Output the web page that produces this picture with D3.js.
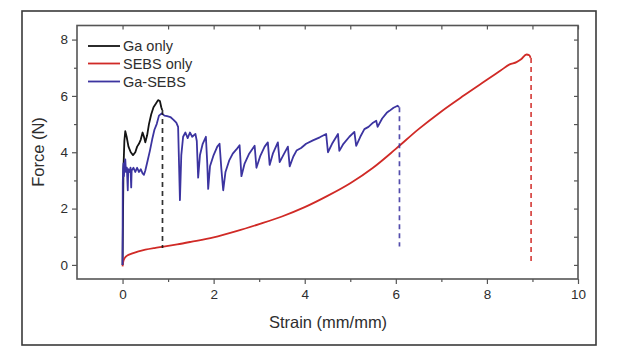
<!DOCTYPE html>
<html><head><meta charset="utf-8">
<script src="https://cdn.jsdelivr.net/npm/d3@7"></script>
<style>
html,body{margin:0;padding:0;background:#fff;}
svg{display:block;font-family:Arial,"Liberation Sans",Helvetica,sans-serif;}
</style></head>
<body><svg id="c" width="617" height="363"></svg>
<script>
// ---- data (strain mm/mm, force N) ----
const seriesNames = ["Ga only", "SEBS only", "Ga-SEBS"];
const seriesColors = ["#141414", "#d02a26", "#3c34a0"];
const gaOnly = [[0,0],[0.02,3.4],[0.04,4.4],[0.06,4.75],[0.09,4.55],[0.13,4.2],[0.18,4.0],[0.23,3.9],[0.28,4.0],[0.32,4.2],[0.36,4.3],[0.4,4.45],[0.44,4.7],[0.47,4.55],[0.5,4.35],[0.54,4.6],[0.58,5.0],[0.63,5.35],[0.68,5.6],[0.73,5.72],[0.78,5.85],[0.82,5.82],[0.85,5.6],[0.87,5.5]];
const sebsOnly = [[0,-0.05],[0.02,0.15],[0.05,0.25],[0.1,0.33],[0.2,0.4],[0.35,0.48],[0.5,0.54],[0.7,0.6],[0.9,0.65],[1.2,0.73],[1.5,0.82],[2.0,0.98],[2.5,1.2],[3.0,1.45],[3.5,1.72],[4.0,2.05],[4.5,2.45],[5.0,2.9],[5.5,3.45],[6.0,4.12],[6.5,4.82],[7.0,5.45],[7.5,6.02],[8.0,6.57],[8.3,6.9],[8.5,7.12],[8.65,7.2],[8.75,7.3],[8.87,7.47],[8.93,7.44],[8.96,7.35]];
const gaSebs = [[0,0],[0.005,2.9],[0.012,3.4],[0.02,3.6],[0.03,3.15],[0.045,3.55],[0.06,3.75],[0.075,3.3],[0.095,3.45],[0.115,2.65],[0.125,3.4],[0.15,3.3],[0.175,3.45],[0.19,2.75],[0.2,3.35],[0.24,3.45],[0.28,3.3],[0.32,3.45],[0.36,3.3],[0.4,3.4],[0.44,3.25],[0.47,3.2],[0.5,3.35],[0.55,3.7],[0.6,4.05],[0.65,4.45],[0.7,4.8],[0.75,5.0],[0.8,5.3],[0.86,5.38],[0.92,5.3],[0.98,5.28],[1.05,5.25],[1.12,5.15],[1.18,5.05],[1.22,4.9],[1.24,3.6],[1.26,2.3],[1.29,3.9],[1.33,4.55],[1.38,4.7],[1.43,4.5],[1.48,4.7],[1.53,4.55],[1.6,4.65],[1.63,4.4],[1.66,3.1],[1.7,3.9],[1.76,4.3],[1.83,4.55],[1.86,3.6],[1.88,2.7],[1.92,3.5],[2.0,3.9],[2.08,4.2],[2.13,4.3],[2.17,3.4],[2.21,2.65],[2.26,3.3],[2.34,3.7],[2.42,3.95],[2.5,4.1],[2.57,4.25],[2.61,3.15],[2.68,3.6],[2.78,3.95],[2.9,4.23],[2.94,3.45],[3.02,3.85],[3.12,4.2],[3.19,4.35],[3.23,3.55],[3.3,3.95],[3.41,4.35],[3.45,3.65],[3.53,3.9],[3.63,4.2],[3.67,3.5],[3.75,3.85],[3.82,4.06],[3.92,4.15],[4.03,4.3],[4.18,4.42],[4.33,4.53],[4.47,4.65],[4.51,4.0],[4.6,4.3],[4.73,4.65],[4.76,4.05],[4.85,4.3],[4.98,4.55],[5.09,4.72],[5.13,4.23],[5.22,4.55],[5.31,4.82],[5.4,4.9],[5.5,5.05],[5.57,5.12],[5.6,4.9],[5.7,5.2],[5.8,5.4],[5.86,5.47],[5.95,5.58],[6.04,5.65],[6.07,5.6]];
// failure markers: [strain, fromForce, toForce]
const failGaOnly = [0.877, 5.5, 0.6];
const failSebs = [8.97, 7.35, 0.0];
const failGaSebs = [6.08, 5.6, 0.65];
const xDomain = [-1, 10];
const yDomain = [-0.5, 8.5];
const xTickLabels = [0, 2, 4, 6, 8, 10];
const yTickLabels = [0, 2, 4, 6, 8];
const xMinor = [1, 3, 5, 7, 9];
const yMinor = [1, 3, 5, 7];
const xTitle = "Strain (mm/mm)";
const yTitle = "Force (N)";

// ---- layout ----
const svg = d3.select("#c");
const L = 77, R = 578, T = 25.5, B = 279;
const x = d3.scaleLinear().domain(xDomain).range([L, R]);
const y = d3.scaleLinear().domain(yDomain).range([B, T]);
const axisColor = "#555";

svg.append("rect").attr("x", 22).attr("y", 11).attr("width", 574).attr("height", 334)
  .attr("fill", "none").attr("stroke", "#3a3a3a").attr("stroke-width", 1.6);

function styleAxis(g) {
  g.select(".domain").remove();
  g.selectAll("line").attr("stroke", axisColor).attr("stroke-width", 1.2);
  g.selectAll("text").attr("fill", "#2e2e2e").style("font-size", "13.5px");
}
svg.append("g").attr("transform", `translate(0,${B})`)
  .call(d3.axisBottom(x).tickValues(xTickLabels).tickSize(5).tickPadding(5).tickFormat(d3.format("d")))
  .call(styleAxis);
svg.append("g").attr("transform", `translate(0,${B})`)
  .call(d3.axisBottom(x).tickValues(xMinor).tickSize(3).tickFormat(""))
  .call(styleAxis);
svg.append("g").attr("transform", `translate(${L},0)`)
  .call(d3.axisLeft(y).tickValues(yTickLabels).tickSize(5).tickPadding(4).tickFormat(d3.format("d")))
  .call(styleAxis);
svg.append("g").attr("transform", `translate(${L},0)`)
  .call(d3.axisLeft(y).tickValues(yMinor).tickSize(3).tickFormat(""))
  .call(styleAxis);
svg.append("g").attr("transform", `translate(0,${T})`)
  .call(d3.axisTop(x).tickValues(xTickLabels.concat(xMinor)).tickSize(-4).tickFormat(""))
  .call(styleAxis);
svg.append("g").attr("transform", `translate(${R},0)`)
  .call(d3.axisRight(y).tickValues(yTickLabels.concat(yMinor)).tickSize(-4).tickFormat(""))
  .call(styleAxis);
svg.append("rect").attr("x", L).attr("y", T).attr("width", R - L).attr("height", B - T)
  .attr("fill", "none").attr("stroke", axisColor).attr("stroke-width", 1.6);

svg.append("text").attr("x", 328).attr("y", 328).attr("text-anchor", "middle")
  .attr("fill", "#2e2e2e").style("font-size", "16.5px").text(xTitle);
svg.append("text").attr("transform", "translate(44,152) rotate(-90)").attr("text-anchor", "middle")
  .attr("fill", "#2e2e2e").style("font-size", "16.5px").text(yTitle);

const line = d3.line().x(d => x(d[0])).y(d => y(d[1]));
const smooth = d3.line().x(d => x(d[0])).y(d => y(d[1])).curve(d3.curveMonotoneX);
const seriesData = [gaOnly, sebsOnly, gaSebs];
const fails = [failGaOnly, failSebs, failGaSebs];
const g = svg.append("g");
[0, 1, 2].forEach(i => {
  g.append("path").datum(seriesData[i]).attr("d", i === 1 ? smooth : line).attr("fill", "none")
    .attr("stroke", seriesColors[i]).attr("stroke-width", 1.8).attr("stroke-linejoin", "round");
});
[0, 1, 2].forEach(i => {
  const f = fails[i];
  g.append("line").attr("x1", x(f[0])).attr("x2", x(f[0])).attr("y1", y(f[1])).attr("y2", y(f[2]))
    .attr("stroke", seriesColors[i]).attr("stroke-opacity", 0.88)
    .attr("stroke-width", 1.7).attr("stroke-dasharray", "5,4");
});

const legY = [46, 63.5, 81.5];
seriesNames.forEach((n, i) => {
  svg.append("line").attr("x1", 88).attr("x2", 120).attr("y1", legY[i]).attr("y2", legY[i])
    .attr("stroke", seriesColors[i]).attr("stroke-width", 1.8);
  svg.append("text").attr("x", 123).attr("y", legY[i] + 5).attr("fill", "#2e2e2e")
    .style("font-size", "14.5px").text(n);
});
</script></body></html>
